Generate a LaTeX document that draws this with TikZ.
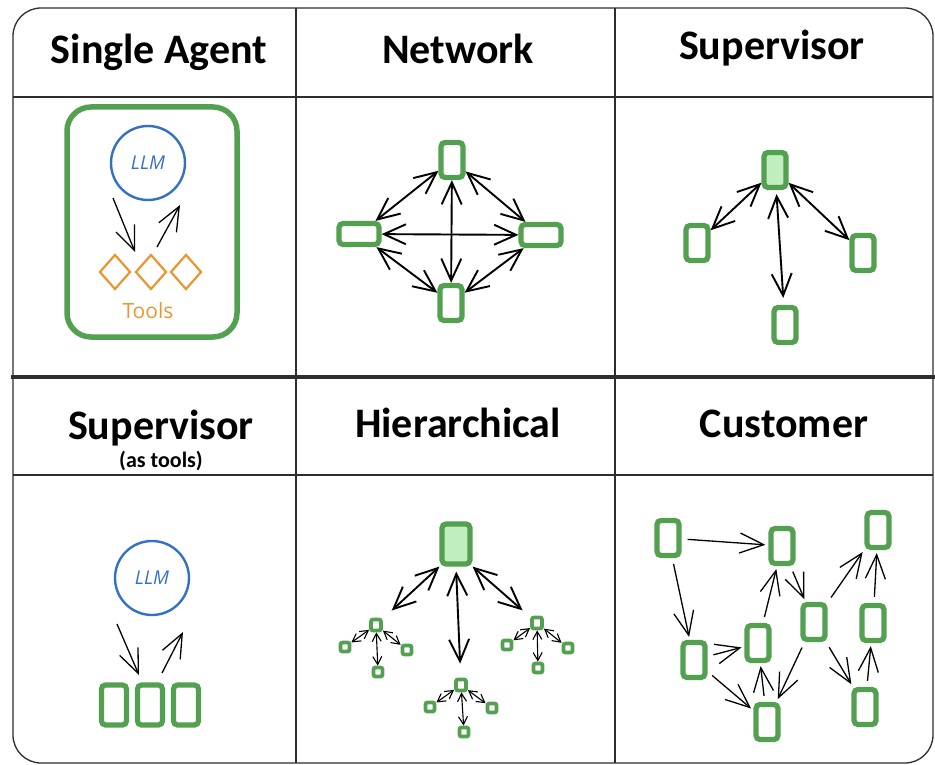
\documentclass[tikz,border=0pt]{standalone}
\usepackage{fontspec}
\setmainfont{Carlito}
\newfontfamily\handfont{Open Sans}
\usetikzlibrary{arrows.meta,shapes.geometric}

\definecolor{agentgreen}{RGB}{82,160,80}
\definecolor{bossgreen}{RGB}{192,238,190}
\definecolor{llmblue}{RGB}{52,112,196}
\definecolor{toolorange}{RGB}{234,150,48}
\definecolor{framegray}{RGB}{45,45,45}

\tikzset{
  frame/.style={draw=framegray, line width=1.3pt},
  title/.style={font=\fontsize{42}{48}\selectfont\bfseries, anchor=base, inner sep=0pt},
  agent/.style={draw=agentgreen, line width=5.2pt, rounded corners=4pt, inner sep=0pt,
                minimum width=22pt, minimum height=35pt},
  flat/.style={agent, minimum width=40pt, minimum height=21pt},
  boss/.style={agent, fill=bossgreen},
  leaf/.style={agent, line width=3.8pt, rounded corners=2pt, minimum width=9pt, minimum height=9pt},
  llm/.style={circle, draw=llmblue, line width=2.4pt, minimum size=74pt, text=llmblue,
              font=\handfont\itshape\fontsize{19}{22}\selectfont},
  tool/.style={diamond, draw=toolorange, line width=2.2pt, minimum width=31pt, minimum height=35pt, inner sep=0pt},
  link/.style={line width=1.9pt,
    arrows={Straight Barb[length=22pt,width=20pt]-Straight Barb[length=22pt,width=20pt]}},
  hand/.style={line width=1.3pt, arrows={-Straight Barb[length=24pt,width=20pt]}},
  twig/.style={line width=1.1pt,
    arrows={Straight Barb[length=8pt,width=9pt]-Straight Barb[length=8pt,width=9pt]}},
}

\begin{document}
\begin{tikzpicture}[x=1pt,y=-1pt]
\useasboundingbox (0,0) rectangle (935,765);

% Frame and grid
\draw[frame, rounded corners=28pt] (13,8) rectangle (933,763);
\draw[frame] (296,8) -- (296,763);
\draw[frame] (615,8) -- (615,763);
\draw[frame] (13,97) -- (933,97);
\draw[frame] (13,475) -- (933,475);
\draw[draw=framegray, line width=4.5pt] (11,377) -- (935,377);

% Titles
\node[title] (tsingle) at (159,64) {Single Agent};
\node[title] (tnetwork) at (458,64) {Network};
\node[title] (tsuper) at (772,60) {Supervisor};
\node[title] (tsupertools) at (161,439) {Supervisor};
\node[font=\fontsize{22}{26}\selectfont\bfseries, anchor=base, inner sep=0pt] (tastools) at (161,467) {(as tools)};
\node[title] (thier) at (458,437) {Hierarchical};
\node[title] (tcustom) at (784,437) {Customer};

% Single agent
\node[draw=agentgreen, line width=5.5pt, rounded corners=24pt, minimum width=170pt, minimum height=230pt] (agentbox) at (152,222) {};
\node[llm] (llm1) at (148,163) {LLM};
\node[tool] (t1) at (115,272) {};
\node[tool] (t2) at (151,272) {};
\node[tool] (t3) at (186,272) {};
\node[text=toolorange, font=\handfont\fontsize{21}{24}\selectfont] (toolslabel) at (148,311) {Tools};
\coordinate (callout) at (113,198);
\coordinate (callin) at (135,252);
\coordinate (backout) at (157,247);
\coordinate (backin) at (180,205);
\draw[hand] (callout) -- (callin);
\draw[hand] (backout) -- (backin);

% Network
\node[agent] (ntop) at (452,160) {};
\node[flat] (nleft) at (359,234) {};
\node[flat] (nright) at (541,235) {};
\node[agent] (nbot) at (451,303) {};
\foreach \a/\b in {nleft/ntop, ntop/nright, nright/nbot, nbot/nleft, nleft/nright, ntop/nbot}
  \draw[link] (\a) -- (\b);

% Supervisor
\node[boss] (sboss) at (775,170) {};
\node[agent] (sleft) at (697,243) {};
\node[agent] (sright) at (863,253) {};
\node[agent] (sbot) at (785,325) {};
\draw[link] (sboss) -- (sleft);
\draw[link] (sboss) -- (sright);
\draw[link, shorten <=4pt, shorten >=7pt] (sboss) -- (sbot);

% Supervisor (as tools)
\node[llm] (llm2) at (152,578) {LLM};
\node[agent, minimum width=25pt, minimum height=40pt] (w1) at (114,705) {};
\node[agent, minimum width=25pt, minimum height=40pt] (w2) at (150,705) {};
\node[agent, minimum width=25pt, minimum height=40pt] (w3) at (186,705) {};
\coordinate (askout) at (117,624);
\coordinate (askin) at (139,675);
\coordinate (replyout) at (162,673);
\coordinate (replyin) at (183,632);
\draw[hand] (askout) -- (askin);
\draw[hand] (replyout) -- (replyin);

% Hierarchical
\node[boss, minimum width=28pt, minimum height=40pt] (root) at (456,544) {};
\node[leaf, minimum width=10pt, minimum height=11pt] (hl) at (376,625) {};
\node[leaf, minimum width=10pt, minimum height=11pt] (hc) at (461,685) {};
\node[leaf, minimum width=10pt, minimum height=11pt] (hr) at (537,623) {};
\node[leaf] (hl1) at (345,647) {};
\node[leaf] (hl2) at (407,650) {};
\node[leaf] (hl3) at (378,672) {};
\node[leaf] (hc1) at (430,707) {};
\node[leaf] (hc2) at (492,708) {};
\node[leaf] (hc3) at (464,732) {};
\node[leaf] (hr1) at (507,645) {};
\node[leaf] (hr2) at (568,648) {};
\node[leaf] (hr3) at (538,668) {};
\draw[link, shorten >=12pt] (root.south west) -- (hl);
\draw[link, shorten <=5pt, shorten >=14pt] (root.south) -- (hc);
\draw[link, shorten >=10pt] (root.south east) -- (hr);
\foreach \m in {hl,hc,hr}
  \foreach \s in {1,2,3}
    \draw[twig] (\m) -- (\m\s);

% Custom
\node[agent] (c1) at (668,538) {};
\node[agent] (c2) at (782,546) {};
\node[agent] (c3) at (878,530) {};
\node[agent] (c4) at (694,660) {};
\node[agent] (c5) at (758,643) {};
\node[agent] (c6) at (814,622) {};
\node[agent] (c7) at (873,623) {};
\node[agent] (c8) at (767,722) {};
\node[agent] (c9) at (865,707) {};
\foreach \a/\b in {c1/c2, c1/c4, c4/c5, c4/c8, c5/c2, c8/c5, c2/c6, c6/c3, c6/c8, c6/c9, c9/c7, c7/c3}
  \draw[hand, shorten <=6pt, shorten >=3pt] (\a) -- (\b);
\end{tikzpicture}
\end{document}
